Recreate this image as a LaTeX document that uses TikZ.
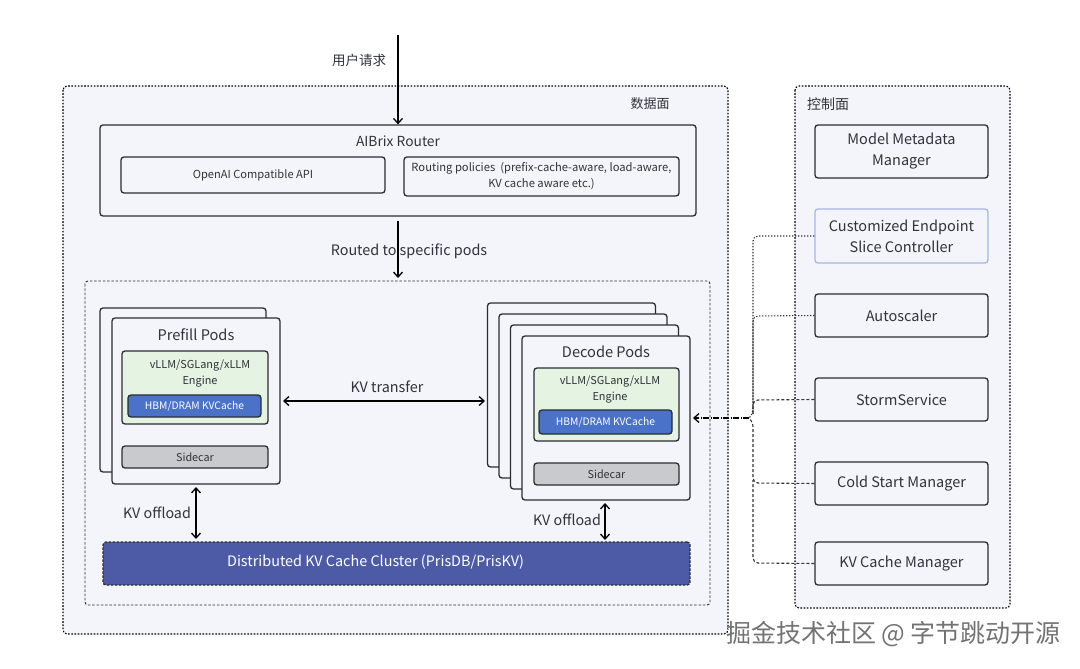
\documentclass[tikz,border=0pt]{standalone}
\usepackage{fontspec}
\setmainfont{Noto Sans CJK SC}
\usetikzlibrary{arrows.meta}
\definecolor{planebg}{HTML}{F3F5FA}
\definecolor{edge}{HTML}{2A2C30}
\definecolor{engfill}{HTML}{E4F3E2}
\definecolor{hbmfill}{HTML}{4A72C9}
\definecolor{sidefill}{HTML}{C9CACD}
\definecolor{distfill}{HTML}{4D5BA6}
\definecolor{txt}{HTML}{30333A}
\definecolor{cesedge}{HTML}{A8B7E2}
\tikzset{
  box/.style={draw=edge, line width=1.3pt, rounded corners=3pt, inner sep=0pt, align=center, text=txt},
  card/.style={box, fill=planebg},
  plane/.style={draw=black, line width=1.1pt, dash pattern=on 1.6pt off 1.6pt, rounded corners=4pt, fill=planebg},
  inner/.style={draw=edge, line width=0.9pt, dash pattern=on 2.5pt off 1.8pt, rounded corners=3pt},
  lbl/.style={text=txt, inner sep=0pt, align=center},
  arr/.style={-{Straight Barb[length=5pt,width=9pt]}, line width=1.3pt, draw=black},
  darr/.style={{Straight Barb[length=5pt,width=9pt]}-{Straight Barb[length=5pt,width=9pt]}, line width=1.3pt, draw=black},
  dotconn/.style={draw=black!80, line width=1.1pt, dash pattern=on 1.3pt off 1.7pt, rounded corners=5pt},
  dashconn/.style={draw=black!80, line width=1.1pt, dash pattern=on 3pt off 2pt, rounded corners=5pt},
  ctrl/.style={box, fill=planebg, minimum width=173pt, font=\fontsize{14.5}{21}\selectfont}
}
\begin{document}
\begin{tikzpicture}[x=1pt,y=-1pt]
\path[fill=white] (0,0) rectangle (1080,669);
\useasboundingbox (0,0) rectangle (1080,669);
% planes
\path[plane] (63,86) rectangle (728,634);
\path[plane] (795,86) rectangle (1010,608);
\node[lbl, font=\fontsize{13}{15}\selectfont] (dlabel) at (650,104) {数据面};
\node[lbl, font=\fontsize{14}{16}\selectfont] (clabel) at (828,104) {控制面};
% user request
\coordinate (usr) at (398,35);
\node[lbl, font=\fontsize{13.5}{16}\selectfont] (usrlbl) at (359,60) {用户请求};
% router
\node[box, fill=planebg, minimum width=596pt, minimum height=91pt] (router) at (398,170.5) {};
\node[lbl, font=\fontsize{13.8}{16}\selectfont] (routert) at (398,141) {AIBrix Router};
\node[box, fill=planebg, minimum width=264pt, minimum height=36pt, font=\fontsize{11.1}{13}\selectfont] (api) at (253,175) {OpenAI Compatible API};
\node[box, fill=planebg, minimum width=275pt, minimum height=39pt, font=\fontsize{11.2}{16}\selectfont] (policy) at (541.5,176.5) {Routing policies~ (prefix-cache-aware, load-aware,\\KV cache aware etc.)};
\draw[arr] (usr) -- (router.north);
% inner box
\path[inner] (85,281) rectangle (710,605);
\coordinate (innertop) at (398,278);
\draw[arr] (router.south) ++(0,4) -- (innertop);
\node[lbl, font=\fontsize{14.4}{16}\selectfont] (routed) at (409,251) {Routed to specific pods};
% prefill pods
\node[card, minimum width=166pt, minimum height=164pt] (pback) at (183,390) {};
\node[card, minimum width=168pt, minimum height=166pt] (pfront) at (196,401) {};
\node[lbl, font=\fontsize{14.6}{16}\selectfont] (ptitle) at (196,335) {Prefill Pods};
\node[box, fill=engfill, minimum width=146pt, minimum height=73pt] (peng) at (195,387.5) {};
\node[lbl, font=\fontsize{10.9}{16}\selectfont] (pengt) at (200,374) {vLLM/SGLang/xLLM\\Engine};
\node[box, fill=hbmfill, text=white, minimum width=133pt, minimum height=22pt, font=\fontsize{10.3}{13}\selectfont] (phbm) at (194.5,406) {HBM/DRAM KVCache};
\node[box, fill=sidefill, minimum width=146pt, minimum height=22pt, font=\fontsize{10.8}{13}\selectfont] (pside) at (195,457) {Sidecar};
% decode pods
\node[card, minimum width=168pt, minimum height=164pt] (d1) at (571.5,385) {};
\node[card, minimum width=168pt, minimum height=164pt] (d2) at (583,396) {};
\node[card, minimum width=168pt, minimum height=164pt] (d3) at (594.5,407) {};
\node[card, minimum width=168pt, minimum height=164pt] (dfront) at (606,418) {};
\node[lbl, font=\fontsize{14.6}{16}\selectfont] (dtitle) at (606,352) {Decode Pods};
\node[box, fill=engfill, minimum width=145pt, minimum height=73pt] (deng) at (606.5,404.5) {};
\node[lbl, font=\fontsize{10.9}{16}\selectfont] (dengt) at (610,390) {vLLM/SGLang/xLLM\\Engine};
\node[box, fill=hbmfill, text=white, minimum width=133pt, minimum height=24pt, font=\fontsize{10.3}{13}\selectfont] (dhbm) at (605.5,422) {HBM/DRAM KVCache};
\node[box, fill=sidefill, minimum width=145pt, minimum height=22pt, font=\fontsize{10.8}{13}\selectfont] (dside) at (606.5,474) {Sidecar};
% KV transfer
\coordinate (kvl) at (283,401);
\coordinate (kvr) at (485,401);
\draw[darr] (kvl) -- (kvr);
\node[lbl, font=\fontsize{14.4}{16}\selectfont] (kvt) at (387,387) {KV transfer};
% distributed cluster
\node[box, fill=distfill, draw=edge, dash pattern=on 2.5pt off 1.5pt, minimum width=587pt, minimum height=43pt] (dist) at (396.5,563.5) {};
\node[lbl, text=white, font=\fontsize{14.4}{16}\selectfont] (distt) at (375.5,562) {Distributed KV Cache Cluster (PrisDB/PrisKV)};
\coordinate (po1) at (196,487);
\coordinate (po2) at (196,539);
\draw[darr] (po1) -- (po2);
\node[lbl, font=\fontsize{14.3}{16}\selectfont] (pol) at (157,513) {KV offload};
\coordinate (do1) at (605,503);
\coordinate (do2) at (605,540);
\draw[darr] (do1) -- (do2);
\node[lbl, font=\fontsize{14.3}{16}\selectfont] (dol) at (567,520) {KV offload};
% control boxes
\node[ctrl, minimum height=53pt] (mmm) at (901.5,151.5) {Model Metadata\\Manager};
\node[ctrl, draw=cesedge, minimum height=54pt] (ces) at (901.5,236) {Customized Endpoint\\Slice Controller};
\node[ctrl, minimum height=43pt] (auto) at (901.5,315.5) {Autoscaler};
\node[ctrl, minimum height=43pt] (storm) at (901.5,399.5) {StormService};
\node[ctrl, minimum height=43pt] (cold) at (901.5,483.5) {Cold Start Manager};
\node[ctrl, minimum height=43pt] (kvm) at (901.5,563.5) {KV Cache Manager};
% connectors
\coordinate (jn) at (749,418);
\coordinate (dtarget) at (693,418);
\draw[dotconn] (ces.west) -- (753,236) -- (753,414) -- (jn);
\draw[dotconn] (auto.west) -- (753,316) -- (753,414);
\draw[dashconn] (storm.west) -- (753,400) -- (753,414);
\draw[dashconn] (cold.west) -- (753,483) -- (753,422) -- (jn);
\draw[dashconn] (kvm.west) -- (753,563) -- (753,480);
\draw[arr, dash pattern=on 6pt off 1.5pt on 1pt off 1.5pt] (jn) -- (dtarget);
% watermark
\node[lbl, text=white, font=\fontsize{25}{28}\selectfont] (wm2) at (895,635.5) {掘金技术社区 @ 字节跳动开源};
\node[lbl, text=black!55, font=\fontsize{25}{28}\selectfont] (wm) at (893.5,634) {掘金技术社区 @ 字节跳动开源};
\end{tikzpicture}
\end{document}
